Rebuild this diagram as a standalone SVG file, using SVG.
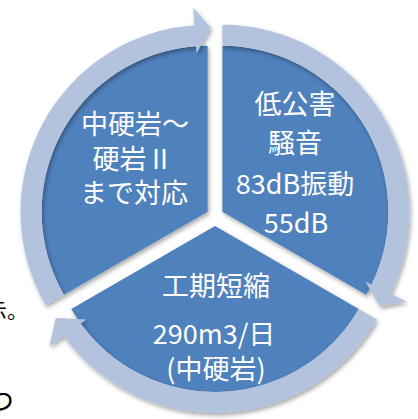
<svg xmlns="http://www.w3.org/2000/svg" width="418" height="419" viewBox="0 0 418 419">
<defs>
<filter id="sh" x="-10%" y="-10%" width="125%" height="125%">
<feDropShadow dx="1.5" dy="2.5" stdDeviation="2.2" flood-color="#000" flood-opacity="0.35"/>
</filter>
<style>
.pie{fill:#4F81BD;filter:url(#sh)}
.arr{fill:#B3C3DE;filter:url(#sh)}
.t{font-family:"Noto Sans CJK JP","Noto Sans",sans-serif;font-size:27px;fill:#fff;text-anchor:middle}
.bg{font-family:"Noto Sans CJK JP","Noto Sans",sans-serif;fill:#000}
</style>
</defs>
<rect width="418" height="419" fill="#fff"/>
<g id="background-fragments">
<text class="bg" x="-14" y="318" font-size="21">示。</text>
<text class="bg" x="-13" y="411" font-size="27">つ</text>
</g>
<g id="node-left">
<path class="pie" d="M207.6,211.75 L63.84,294.75 A166,166 0 0 1 207.6,45.75 Z"/>
<text class="t" x="135" y="134">中硬岩～</text>
<text class="t" x="133" y="169">硬岩Ⅱ</text>
<text class="t" x="134" y="203">まで対応</text>
</g>
<g id="node-right">
<path class="pie" d="M222.4,211.75 L222.4,45.75 A166,166 0 0 1 366.16,294.75 Z"/>
<text class="t" x="295" y="114">低公害</text>
<text class="t" x="295" y="153">騒音</text>
<text class="t" x="295" y="194">83dB振動</text>
<text class="t" x="296" y="233">55dB</text>
</g>
<g id="node-bottom">
<path class="pie" d="M215,226 L358.76,309 A166,166 0 0 1 71.24,309 Z"/>
<text class="t" x="216" y="296">工期短縮</text>
<text class="t" x="214" y="344">290m3/日</text>
<text class="t" x="216" y="379">(中硬岩)</text>
</g>
<g id="connectors">
<path class="arr" d="M63.84,294.75 L45.65,305.25 A187,187 0 0 1 194.56,25.21 L193.33,7.75 L210.81,27.78 L196.51,53.14 L196.02,46.15 A166,166 0 0 0 63.84,294.75 Z"/>
<path class="arr" d="M222.4,45.75 L222.4,24.75 A187,187 0 0 1 390.47,293.73 L406.2,301.4 L380.12,306.52 L365.31,281.45 L371.6,284.52 A166,166 0 0 0 222.4,45.75 Z"/>
<path class="arr" d="M358.76,309 L376.95,319.5 A187,187 0 0 1 63.71,335.92 L49.56,346.2 L55.65,318 L86.37,319.46 L80.7,323.57 A166,166 0 0 0 358.76,309 Z"/>
</g>
</svg>
